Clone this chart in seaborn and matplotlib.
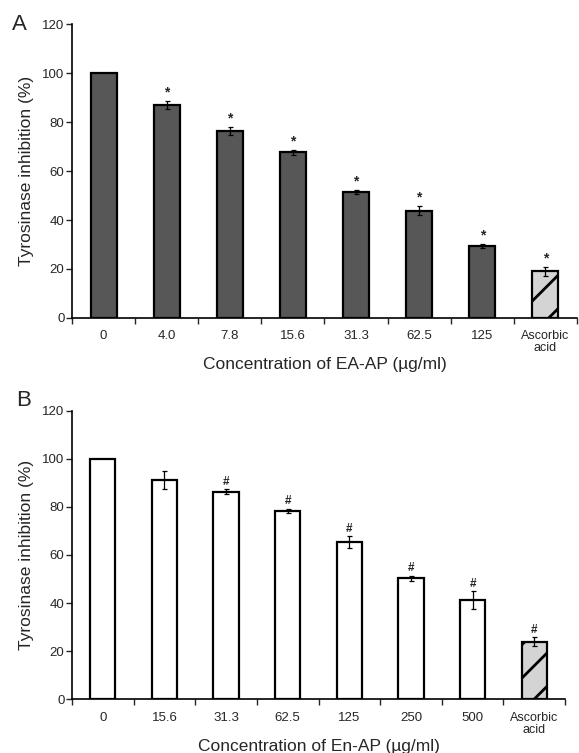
import numpy as np
import pandas as pd
import matplotlib
matplotlib.use("Agg")
import matplotlib.pyplot as plt
import seaborn as sns

sns.set_style("ticks")
plt.rcParams["font.family"] = ["Liberation Sans", "DejaVu Sans"]
plt.rcParams["hatch.linewidth"] = 2.0

# Panel A: EA-AP
labels_a = ["0", "4.0", "7.8", "15.6", "31.3", "62.5", "125", "Ascorbic\nacid"]
values_a = [100, 87.0, 76.2, 67.6, 51.5, 43.8, 29.4, 19.0]
errors_a = [0, 1.7, 1.7, 1.0, 0.7, 1.8, 1.0, 1.7]
marks_a = ["", "*", "*", "*", "*", "*", "*", "*"]

# Panel B: En-AP
labels_b = ["0", "15.6", "31.3", "62.5", "125", "250", "500", "Ascorbic\nacid"]
values_b = [100, 91.3, 86.3, 78.4, 65.3, 50.3, 41.3, 24.0]
errors_b = [0, 3.7, 1.0, 0.8, 2.4, 1.0, 3.7, 1.8]
marks_b = ["", "", "#", "#", "#", "#", "#", "#"]

fig = plt.figure(figsize=(5.79, 7.53), dpi=100)
ax_a = fig.add_axes([0.1244, 0.5777, 0.872, 0.3904])
ax_b = fig.add_axes([0.1244, 0.0713, 0.8515, 0.3833])


def panel(ax, labels, values, errors, marks, color, xlabel, letter, letter_xy):
    df = pd.DataFrame({"conc": labels, "val": values})
    sns.barplot(data=df, x="conc", y="val", ax=ax, color=color,
                width=0.41, edgecolor="black", linewidth=1.6,
                saturation=1)
    bars = ax.patches
    xs = [b.get_x() + b.get_width() / 2 for b in bars]
    # barra del control positivo con rayado
    bars[-1].set_facecolor("#d4d4d4")
    bars[-1].set_hatch("/")
    for x, v, e, m in zip(xs, values, errors, marks):
        if e > 0:
            ax.errorbar(x, v, yerr=e, color="black", capsize=1.8,
                        elinewidth=0.9, capthick=0.9)
        if m:
            ax.text(x, v + e + 0.6, m, ha="center", va="bottom",
                    fontsize=8.5 if m == "#" else 10, fontweight="bold")
    ax.set_xlim(-0.5, 7.5)
    ax.set_ylim(0, 120)
    ax.set_yticks(np.arange(0, 121, 20))
    ax.set_xticks(range(8))
    ax.set_xticklabels(labels, fontsize=9.5, linespacing=1.0)
    ax.get_xticklabels()[-1].set_fontsize(9)
    ax.set_xticks(np.arange(-0.5, 8, 1), minor=True)
    ax.tick_params(axis="x", which="major", length=0, pad=9)
    ax.tick_params(axis="x", which="minor", length=4, width=1, direction="out")
    ax.tick_params(axis="y", length=4, width=1, labelsize=9.5, pad=1.5)
    ax.set_xlabel(xlabel, fontsize=12.5, labelpad=2)
    ax.set_ylabel("Tyrosinase inhibition (%)", fontsize=12.5, labelpad=6)
    for s in ("top", "right"):
        ax.spines[s].set_visible(False)
    for s in ("left", "bottom"):
        ax.spines[s].set_linewidth(1.2)
        ax.spines[s].set_color("black")
    fig.text(letter_xy[0], letter_xy[1], letter, fontsize=16,
             ha="center", va="center")


panel(ax_a, labels_a, values_a, errors_a, marks_a, "#575757",
      "Concentration of EA-AP (\u00b5g/ml)", "A", (19 / 579, 1 - 25 / 753))
panel(ax_b, labels_b, values_b, errors_b, marks_b, "white",
      "Concentration of En-AP (\u00b5g/ml)", "B", (24 / 579, 1 - 400 / 753))

fig.savefig("out.png", dpi=100)
